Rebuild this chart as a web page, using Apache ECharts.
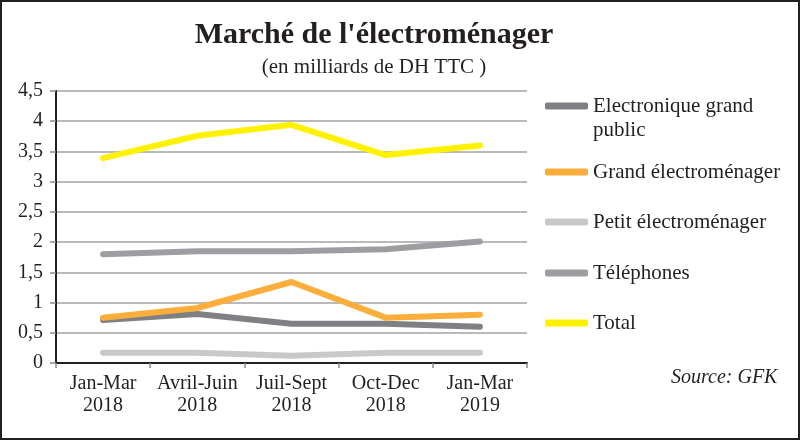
<!DOCTYPE html>
<html>
<head>
<meta charset="utf-8">
<script src="https://cdn.jsdelivr.net/npm/echarts@6/dist/echarts.min.js"></script>
<style>
html,body{margin:0;padding:0;background:#fff;}
#chart{width:800px;height:440px;}
</style>
</head>
<body>
<div id="chart"></div>
<script>
// ---- data ----
var categories = ['Jan-Mar\n2018', 'Avril-Juin\n2018', 'Juil-Sept\n2018', 'Oct-Dec\n2018', 'Jan-Mar\n2019'];
var electronique = [0.71, 0.81, 0.65, 0.65, 0.60];
var grandElectro = [0.75, 0.91, 1.34, 0.75, 0.80];
var petitElectro = [0.17, 0.17, 0.12, 0.17, 0.17];
var telephones = [1.80, 1.85, 1.85, 1.88, 2.01];
var total = [3.39, 3.76, 3.94, 3.44, 3.60];
var seriesNames = ['Electronique grand public', 'Grand électroménager', 'Petit électroménager', 'Téléphones', 'Total'];
var seriesColors = ['#7f8083', '#fbae3c', '#c8c9cb', '#9d9ea1', '#fff200'];
var seriesData = [electronique, grandElectro, petitElectro, telephones, total];

var FONT = 'Liberation Serif';
var legendCenters = [101, 167, 217, 268, 318];

var legends = seriesNames.map(function (name, i) {
  var multi = (i === 0);
  return {
    left: 540,
    top: multi ? legendCenters[i] - 36 : legendCenters[i] - 12,
    orient: 'vertical',
    itemWidth: 43,
    itemHeight: 7,
    icon: 'roundRect',
    selectedMode: false,
    formatter: multi ? function () { return '\nElectronique grand\npublic'; } : '{name}',
    textStyle: {
      fontFamily: FONT, fontSize: 21, color: '#231f20', lineHeight: 24
    },
    data: [{ name: name, itemStyle: { color: seriesColors[i] } }]
  };
});

var option = {
  backgroundColor: '#fff',
  animation: false,
  title: [
    { text: "Marché de l'électroménager", left: 369, textAlign: 'center', top: 15,
      textStyle: { fontFamily: FONT, fontSize: 30, fontWeight: 'bold', color: '#231f20', lineHeight: 30 } },
    { text: '(en milliards de DH TTC )', left: 369, textAlign: 'center', top: 52,
      textStyle: { fontFamily: FONT, fontSize: 21, fontWeight: 'normal', color: '#231f20', lineHeight: 21 } },
    { text: 'Source: GFK', left: 666, top: 363,
      textStyle: { fontFamily: FONT, fontSize: 20, fontStyle: 'italic', fontWeight: 'normal', color: '#231f20', lineHeight: 20 } }
  ],
  legend: legends,
  grid: { left: 56, right: 273, top: 91, bottom: 77 },
  xAxis: {
    type: 'category',
    data: categories,
    boundaryGap: true,
    axisLine: { show: true, lineStyle: { color: '#231f20', width: 2 } },
    axisTick: { show: true, length: 5, lineStyle: { color: '#8a8a8a', width: 1.5 } },
    axisLabel: { fontFamily: FONT, fontSize: 20, color: '#231f20', lineHeight: 22, margin: 10, interval: 0 },
    splitLine: { show: false }
  },
  yAxis: {
    type: 'value',
    min: 0, max: 4.5, interval: 0.5,
    axisLine: { show: true, lineStyle: { color: '#231f20', width: 2 } },
    axisTick: { show: true, length: 6, lineStyle: { color: '#8a8a8a', width: 1.5 } },
    axisLabel: { fontFamily: FONT, fontSize: 20, color: '#231f20', margin: 13,
      formatter: function (v) { return String(v).replace('.', ','); } },
    splitLine: { show: true, lineStyle: { color: '#a3a3a3', width: 1.5 } }
  },
  series: seriesNames.map(function (name, i) {
    return {
      name: name, type: 'line', data: seriesData[i],
      showSymbol: false, symbol: 'none',
      lineStyle: { color: seriesColors[i], width: 6, cap: 'round', join: 'round' },
      itemStyle: { color: seriesColors[i] }
    };
  }),
  graphic: [
    { type: 'rect', shape: { x: 1, y: 1, width: 798, height: 438 },
      style: { fill: 'none', stroke: '#231f20', lineWidth: 2 }, silent: true, z: 100 }
  ]
};

var chart = echarts.init(document.getElementById('chart'), null, { renderer: 'canvas' });
chart.setOption(option);
</script>
</body>
</html>
